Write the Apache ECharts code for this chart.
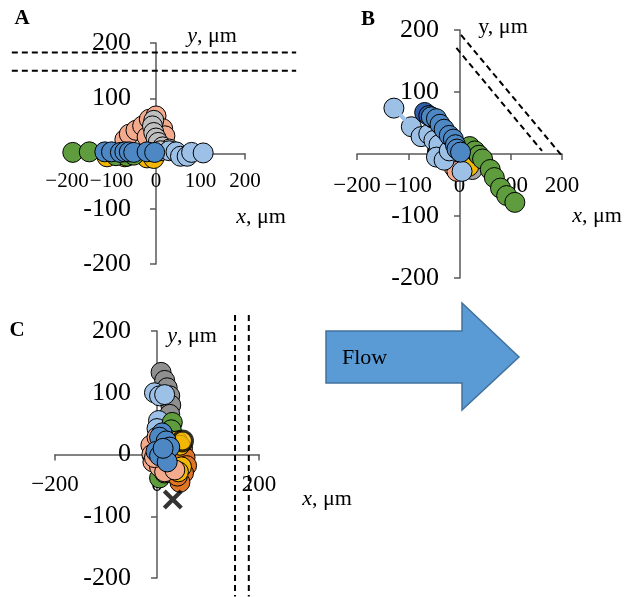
<!DOCTYPE html>
<html><head><meta charset="utf-8">
<script src="https://cdn.jsdelivr.net/npm/echarts@6/dist/echarts.min.js"></script>
<style>html,body{margin:0;padding:0;background:#fff}#c{width:626px;height:597px}</style>
</head><body><div id="c"></div>
<script>
// ---- Panel A data (x, y in µm)
const aGold = [[-110,-6],[-70,-6],[-20,-8],[-5,-9]];
const aGreen = [[-187,2],[-150,3],[-90,-4],[-65,-5],[-50,-3]];
const aSalmon = [[-70,25],[-60,35],[-45,42],[-30,50],[-15,62],[0,68],[15,45],[20,32],[-20,30]];
const aGray = [[-5,60],[-8,50],[-5,38],[0,28],[5,20],[15,12],[30,8],[10,5]];
const aLightBlue = [[30,5],[45,3],[55,-5],[70,-5],[80,2],[106,1]];
const aBlue = [[-115,3],[-100,3],[-80,2],[-70,3],[-60,3],[-50,2],[-20,3],[-3,2]];
// ---- Panel B data
const bGray = [[25,-25],[10,-20]];
const bGold = [[15,-15],[18,-20]];
const bGreen = [[20,12],[30,5],[38,-2],[45,-8],[60,-25],[68,-38],[80,-55],[92,-67],[108,-78]];
const bSalmon = [[-20,-5],[-15,-12],[-10,-22],[-5,-28]];
const bLightBlue = [[-128,74],[-94,44],[-75,28],[-60,32],[-50,22],[-40,15],[-45,-5],[-30,-10],[-20,5],[5,-28]];
const bDarkBlue = [[-68,67],[-60,62],[-52,58]];
const bBlue = [[-55,60],[-45,57],[-38,48],[-30,40],[-20,30],[-12,24],[-8,15],[-5,8],[2,3]];
// ---- Panel C data
const cGray = [[8,133],[15,120],[20,108],[25,95],[27,80],[25,65]];
const cLightBlue = [[-5,100],[5,95],[15,97],[3,55],[0,42]];
const cGreen = [[30,52],[28,40],[20,25],[5,-38],[15,-30]];
const cOrange = [[50,10],[55,-5],[58,-18],[52,-30],[45,-45],[40,-35]];
const cGold = [[40,22],[45,15],[48,-20],[42,-28]];
const cRing = [[50,22]];
const cSalmon = [[-12,15],[-10,0],[-8,-12],[5,-20],[15,-28],[35,-25],[0,28],[-5,-5]];
const cBlue = [[10,35],[5,28],[18,22],[25,12],[-2,5],[5,-2],[20,-12],[12,10]];
const cCross = [[31,-73]];
// ---- Channel walls (dashed)
const aDash1 = [[-324,183],[315,183]], aDash2 = [[-324,150],[315,150]];
const bDash1 = [[3,192],[200,-3]], bDash2 = [[-6,171],[161,5]];
const cDash1 = [[153,226],[153,-230]], cDash2 = [[180,226],[180,-230]];
// ---- ticks
const axisMin = -200, axisMax = 200;

const COL = {gold:'#F2B705', green:'#5E9C3E', salmon:'#F4AA8C', grayA:'#BFBFBF', grayC:'#8F8F8F',
  light:'#9DC0E6', blue:'#4E88C4', dark:'#2F5DA8', orange:'#E07526'};
const SERIF = '"Liberation Serif","DejaVu Serif",serif';

function xAxis(gi, interval, margin, offset, fs){
  return {type:'value', gridIndex:gi, min:axisMin, max:axisMax, interval:interval, position:'bottom', offset:offset,
    axisLine:{onZero:false, lineStyle:{color:'#595959', width:1.5}},
    axisTick:{show:true, length:6, lineStyle:{color:'#595959', width:1.5}},
    splitLine:{show:false},
    axisLabel:{margin:margin, fontFamily:SERIF, fontSize:fs, color:'#000', hideOverlap:false,
      showMinLabel:true, showMaxLabel:true,
      formatter:v => v<0 ? '\u2212'+Math.abs(v) : String(v)}};
}
function yAxis(gi, margin, offset){
  return {type:'value', gridIndex:gi, min:axisMin, max:axisMax, interval:100, position:'left', offset:offset,
    axisLine:{onZero:false, lineStyle:{color:'#595959', width:1.5}},
    axisTick:{show:true, length:6, lineStyle:{color:'#595959', width:1.5}},
    splitLine:{show:false},
    axisLabel:{margin:margin, fontFamily:SERIF, fontSize:26, color:'#000', hideOverlap:false,
      showMinLabel:true, showMaxLabel:true}};
}
function sc(gi, data, color, extra){
  return Object.assign({type:'scatter', xAxisIndex:gi, yAxisIndex:gi, data:data, symbol:'circle', symbolSize:20,
    itemStyle:{color:color, borderColor:'#000', borderWidth:1, opacity:1}, silent:true}, extra||{});
}
function dash(gi, data){
  return {type:'custom', xAxisIndex:gi, yAxisIndex:gi, data:[0], clip:false, silent:true,
    renderItem:function(params, api){
      const p1 = api.coord(data[0]), p2 = api.coord(data[1]);
      return {type:'line', shape:{x1:p1[0], y1:p1[1], x2:p2[0], y2:p2[1]},
        style:{stroke:'#000', lineWidth:2, lineDash:[6,4], fill:null}};
    }};
}

const chart = echarts.init(document.getElementById('c'), null, {renderer:'canvas'});
const ital = {i:{fontStyle:'italic', fontFamily:SERIF, fontSize:22, fill:'#000'}};
function txt(x,y,text,size,extra){
  return {type:'text', x:x, y:y, style:Object.assign({text:text, fontFamily:SERIF, fontSize:size, fill:'#000',
    align:'center', verticalAlign:'middle', rich:ital}, extra||{}), z:100};
}
chart.setOption({
  animation:false,
  grid:[
    {left:67, width:178, top:43, height:221, containLabel:false, outerBoundsMode:'none'},
    {left:357, width:205, top:30, height:248, containLabel:false, outerBoundsMode:'none'},
    {left:55, width:204, top:331, height:247, containLabel:false, outerBoundsMode:'none'}
  ],
  xAxis:[xAxis(0,100,17,-110.5,21), xAxis(1,100,20,-124,23), xAxis(2,200,19,-123.5,23)],
  yAxis:[yAxis(0,25,-89), yAxis(1,21,-103), yAxis(2,26,-102)],
  series:[
    dash(0,aDash1), dash(0,aDash2),
    sc(0,aGold,COL.gold), sc(0,aGreen,COL.green), sc(0,aSalmon,COL.salmon), sc(0,aGray,COL.grayA),
    sc(0,aLightBlue,COL.light), sc(0,aBlue,COL.blue),
    dash(1,bDash1), dash(1,bDash2),
    {type:'line', xAxisIndex:1, yAxisIndex:1, data:bLightBlue.slice(0,2), symbol:'none', silent:true,
      lineStyle:{color:COL.light, width:4}},
    sc(1,bGray,'#A5A5A5'), sc(1,bGold,COL.gold), sc(1,bGreen,COL.green), sc(1,bSalmon,COL.salmon),
    sc(1,bLightBlue,COL.light), sc(1,bDarkBlue,COL.dark), sc(1,bBlue,COL.blue),
    dash(2,cDash1), dash(2,cDash2),
    sc(2,cGray,COL.grayC), sc(2,cLightBlue,COL.light), sc(2,cGreen,COL.green), sc(2,cOrange,COL.orange),
    sc(2,cGold,COL.gold), sc(2,cRing,COL.gold,{itemStyle:{color:COL.gold,borderColor:'#000',borderWidth:3}}),
    sc(2,cSalmon,COL.salmon), sc(2,cBlue,COL.blue),
    sc(2,cCross,'#000',{symbol:'path://M1.5,0L5,3.5L8.5,0L10,1.5L6.5,5L10,8.5L8.5,10L5,6.5L1.5,10L0,8.5L3.5,5L0,1.5Z', symbolSize:20,
      itemStyle:{color:'#000', borderWidth:0}})
  ],
  graphic:[
    {type:'polygon', shape:{points:[[326,331],[462,331],[462,303],[519,357],[462,410],[462,383],[326,383]]},
      style:{fill:'#5B9BD5', stroke:'#41719C', lineWidth:1.5}},
    txt(342,358,'Flow',22,{align:'left'}),
    txt(22,19,'A',21,{fontWeight:'bold'}),
    txt(368,20,'B',21,{fontWeight:'bold'}),
    txt(17,331,'C',21,{fontWeight:'bold'}),
    txt(212,36,'{i|y}, \u03bcm',22),
    txt(261,217,'{i|x}, \u03bcm',22),
    txt(503,27,'y, \u03bcm',22),
    txt(597,216,'{i|x}, \u03bcm',22),
    txt(192,336,'{i|y}, \u03bcm',22),
    txt(327,499,'{i|x}, \u03bcm',22)
  ]
});
</script></body></html>
